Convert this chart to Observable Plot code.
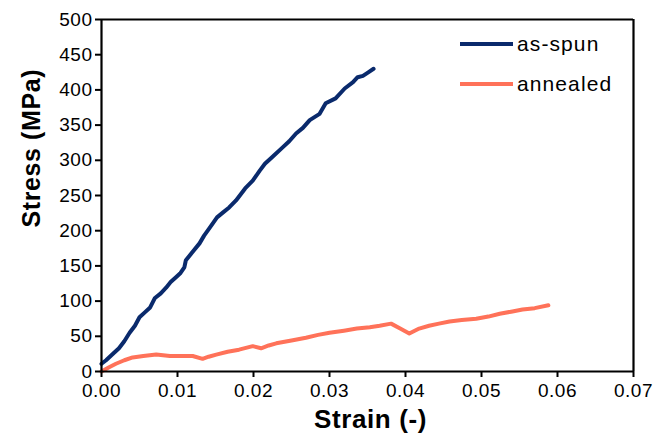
<!DOCTYPE html>
<html><head><meta charset="utf-8">
<script src="https://cdn.jsdelivr.net/npm/d3@7"></script>
<script src="https://cdn.jsdelivr.net/npm/@observablehq/plot@0.6"></script>
<style>
body{margin:0;background:#fff;font-family:"Liberation Sans",Arial,sans-serif;}
#wrap{position:relative;width:654px;height:447px;}
#legend{position:absolute;left:460px;top:24px;font-size:21px;letter-spacing:1.1px;color:#000;}
#legend .row{display:flex;align-items:center;height:40px;}
#legend .sw{width:53px;height:4px;margin-right:4px;}
</style></head>
<body><div id="wrap"><div id="legend"></div></div>
<script>
const seriesNames = ["as-spun", "annealed"];
const seriesColors = ["#0a2a6c", "#ff7259"];
const asSpunStrain = [0, 0.0006, 0.0013, 0.0023, 0.0030, 0.0037, 0.0044, 0.0050, 0.0057, 0.0064, 0.0070, 0.0078, 0.0085, 0.0091, 0.0098, 0.0104, 0.0109, 0.0111, 0.0120, 0.0129, 0.0135, 0.0143, 0.0152, 0.0160, 0.0168, 0.0177, 0.0189, 0.0199, 0.0208, 0.0215, 0.0224, 0.0238, 0.0247, 0.0256, 0.0265, 0.0274, 0.0287, 0.0295, 0.0308, 0.0320, 0.0331, 0.0337, 0.0344, 0.0351, 0.0358];
const asSpunStress = [11, 16, 23, 33, 43, 55, 65, 77, 84, 91, 104, 111, 119, 127, 134, 140, 148, 158, 170, 182, 193, 205, 219, 226, 233, 243, 260, 271, 285, 295, 304, 318, 327, 338, 346, 357, 366, 381, 388, 402, 411, 418, 420, 425, 430];
const annealedStrain = [0, 0.0010, 0.0019, 0.0030, 0.0041, 0.0055, 0.0072, 0.0081, 0.0090, 0.0106, 0.0120, 0.0133, 0.0141, 0.0151, 0.0166, 0.0181, 0.0199, 0.0210, 0.0220, 0.0230, 0.0250, 0.0269, 0.0285, 0.0300, 0.0319, 0.0336, 0.0353, 0.0366, 0.0381, 0.0393, 0.0405, 0.0418, 0.0431, 0.0444, 0.0458, 0.0474, 0.0493, 0.0509, 0.0524, 0.0539, 0.0554, 0.0570, 0.0588];
const annealedStress = [0, 6, 11, 16, 20, 22, 24, 23, 22, 22, 22, 18, 21, 24, 28, 31, 36, 33, 37, 40, 44, 48, 52, 55, 58, 61, 63, 65, 68, 61, 54, 61, 65, 68, 71, 73, 75, 78, 82, 85, 88, 90, 94];
const xTicks = [0, 0.01, 0.02, 0.03, 0.04, 0.05, 0.06, 0.07];
const yTicks = [0, 50, 100, 150, 200, 250, 300, 350, 400, 450, 500];
const xDomain = [0, 0.07];
const yDomain = [0, 500];

const data = [
  ...asSpunStrain.map((x, i) => ({x, y: asSpunStress[i], s: seriesNames[0]})),
  ...annealedStrain.map((x, i) => ({x, y: annealedStress[i], s: seriesNames[1]}))
];

const chart = Plot.plot({
  width: 654, height: 447,
  marginLeft: 101, marginRight: 21, marginTop: 19, marginBottom: 76,
  style: {fontFamily: "Liberation Sans, Arial, sans-serif", fontSize: "19px", color: "#000", background: "#fff", overflow: "visible"},
  x: {domain: xDomain},
  y: {domain: yDomain},
  color: {domain: seriesNames, range: seriesColors},
  marks: [
    Plot.line(data, {x: "x", y: "y", z: "s", stroke: "s", strokeWidth: 4, strokeLinejoin: "round", strokeLinecap: "round"}),
    Plot.ruleX(xDomain, {stroke: "#000", strokeWidth: 2.2}),
    Plot.ruleY(yDomain, {stroke: "#000", strokeWidth: 2.2}),
    Plot.axisX({ticks: xTicks, tickFormat: d3.format(".2f"), tickSize: 6, tickPadding: 6, strokeWidth: 2, stroke: "#000", fontSize: 19, label: null}),
    Plot.axisY({ticks: yTicks, tickSize: 6, tickPadding: 3, strokeWidth: 2, stroke: "#000", fontSize: 19, label: null}),
    Plot.text(["Strain (-)"], {frameAnchor: "bottom", lineAnchor: "middle", dy: 48, dx: 3, fontSize: 26, fontWeight: "bold"}),
    Plot.text(["Stress (MPa)"], {frameAnchor: "left", lineAnchor: "middle", dx: -70, dy: 32, rotate: -90, fontSize: 25, fontWeight: "bold"})
  ]
});
chart.querySelectorAll('g[aria-label$="tick label"] text').forEach(t => t.style.letterSpacing = "0.5px");
chart.querySelectorAll('g[aria-label="text"] text').forEach(t => t.style.letterSpacing = "0.6px");
document.getElementById("wrap").prepend(chart);
const leg = document.getElementById("legend");
seriesNames.forEach((n, i) => {
  const r = document.createElement("div"); r.className = "row";
  r.innerHTML = `<span class="sw" style="background:${seriesColors[i]}"></span><span>${n}</span>`;
  leg.appendChild(r);
});
</script></body></html>
